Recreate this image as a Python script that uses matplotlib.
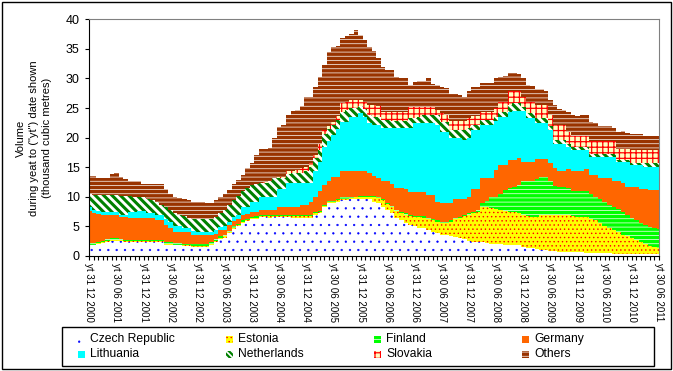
import numpy as np
import matplotlib
matplotlib.use("Agg")
import matplotlib.pyplot as plt
from matplotlib.patches import Rectangle

# ---------------- data (thousand cubic metres, monthly yt values, Dec 2000 .. Jun 2011) -------------
czech = [1.8, 1.8, 2.0, 2.2, 2.4, 2.6, 2.6, 2.5, 2.3, 2.3, 2.3, 2.3, 2.3, 2.3, 2.3, 2.3, 2.3, 1.9, 1.9, 1.8, 1.8,
         1.7, 1.7, 1.6, 1.6, 1.6, 1.6, 1.9, 2.4, 2.9, 3.1, 3.9, 4.6, 5.0, 5.6, 5.9, 6.2, 6.3, 6.6, 6.6, 6.5, 6.6, 6.6,
         6.6, 6.6, 6.5, 6.5, 6.5, 6.5, 6.5, 7.0, 7.2, 8.2, 8.9, 8.9, 9.2, 9.5, 9.5, 9.6, 9.6, 9.7, 9.7, 9.7,
         9.2, 9.0, 8.3, 7.8, 7.3, 6.4, 6.0, 5.6, 5.2, 5.0, 4.8, 4.7, 4.4, 4.1, 3.9, 3.6, 3.5, 3.3, 3.2, 3.0, 2.8, 2.6,
         2.4, 2.4, 2.3, 2.2, 2.1, 2.1, 2.0, 1.9, 1.9, 1.9, 1.8, 1.5, 1.4, 1.3, 1.1, 1.0, 1.0, 0.9, 0.8, 0.7, 0.7,
         0.6, 0.6, 0.6, 0.6, 0.5, 0.5, 0.5, 0.5, 0.5, 0.5, 0.4, 0.4, 0.4, 0.4, 0.4, 0.4, 0.3, 0.3, 0.3, 0.3, 0.3]
estonia = [0.1, 0.1, 0.2, 0.2, 0.2, 0.1, 0.1, 0.2, 0.2, 0.2, 0.2, 0.2, 0.2, 0.2, 0.2, 0.2, 0.2, 0.1, 0.1, 0.1, 0.1,
           0.1, 0.1, 0.1, 0.1, 0.1, 0.1, 0.1, 0.1, 0.2, 0.2, 0.2, 0.2, 0.2, 0.2, 0.2, 0.2, 0.2, 0.2, 0.2, 0.2, 0.2, 0.2,
           0.2, 0.2, 0.2, 0.2, 0.2, 0.2, 0.2, 0.2, 0.2, 0.2, 0.2, 0.2, 0.2, 0.2, 0.2, 0.2, 0.3, 0.3, 0.3, 0.3,
           0.8, 0.8, 1.2, 1.0, 1.0, 1.2, 1.2, 1.4, 1.6, 1.6, 1.8, 1.8, 1.8, 1.9, 1.9, 1.9, 2.1, 2.5, 3.0, 3.4, 3.9, 4.4,
           4.8, 5.0, 6.0, 6.0, 6.0, 5.9, 5.8, 5.7, 5.6, 5.6, 5.4, 5.4, 5.4, 5.3, 5.5, 6.0, 6.0, 6.1, 6.1, 6.2, 6.2,
           6.4, 6.2, 6.0, 6.0, 6.1, 5.8, 5.6, 5.0, 4.5, 4.3, 4.0, 3.6, 3.2, 2.9, 2.6, 2.3, 2.1, 1.8, 1.4, 1.2, 1.0]
finland = [0.3, 0.3, 0.2, 0.2, 0.2, 0.3, 0.3, 0.2, 0.2, 0.2, 0.2, 0.2, 0.2, 0.2, 0.2, 0.2, 0.2, 0.3, 0.3, 0.3, 0.3,
           0.3, 0.3, 0.3, 0.3, 0.3, 0.3, 0.3, 0.3, 0.2, 0.2, 0.2, 0.2, 0.2, 0.2, 0.2, 0.2, 0.2, 0.2, 0.2, 0.2, 0.2, 0.2,
           0.2, 0.2, 0.2, 0.2, 0.2, 0.2, 0.2, 0.2, 0.2, 0.2, 0.2, 0.2, 0.2, 0.2, 0.2, 0.2, 0.1, 0.1, 0.1, 0.1,
           0.2, 0.2, 0.2, 0.2, 0.2, 0.2, 0.2, 0.2, 0.2, 0.2, 0.2, 0.2, 0.2, 0.2, 0.2, 0.2, 0.2, 0.2, 0.2, 0.2, 0.2, 0.2,
           0.3, 0.4, 0.7, 1.1, 1.9, 2.0, 2.7, 3.6, 4.0, 4.2, 4.8, 5.7, 5.8, 6.0, 6.4, 6.4, 6.4, 5.6, 5.0, 4.8, 4.8,
           4.5, 4.2, 4.4, 4.4, 4.4, 4.2, 3.9, 4.1, 4.2, 3.8, 3.9, 3.9, 3.9, 3.7, 3.4, 3.3, 3.1, 3.1, 3.2, 3.2, 3.2]
germany = [5.4, 5.0, 4.7, 4.4, 4.2, 4.0, 4.0, 3.7, 3.9, 3.8, 3.8, 3.8, 3.8, 3.7, 3.7, 3.4, 3.4, 2.9, 2.4, 1.8, 1.8,
           1.9, 1.9, 1.5, 1.5, 1.5, 1.5, 1.2, 1.0, 1.1, 0.9, 0.9, 0.9, 0.9, 0.9, 0.8, 0.8, 0.8, 0.8, 0.8, 0.9, 0.8, 1.3,
           1.2, 1.2, 1.4, 1.4, 1.7, 1.7, 2.3, 2.6, 3.3, 3.4, 3.3, 4.1, 3.8, 4.4, 4.4, 4.3, 4.3, 4.2, 4.2, 3.9,
           3.3, 3.1, 3.0, 3.7, 3.6, 3.7, 4.1, 4.1, 3.8, 4.0, 4.0, 4.1, 3.9, 4.1, 3.2, 3.3, 3.2, 3.0, 3.3, 3.1, 2.8, 2.8,
           3.9, 3.6, 4.1, 3.8, 3.1, 4.5, 4.9, 4.2, 4.7, 4.5, 4.5, 3.3, 3.3, 3.3, 3.4, 3.0, 3.0, 3.1, 2.9, 2.6, 2.6,
           3.2, 3.4, 3.4, 3.3, 3.7, 3.2, 3.7, 3.5, 3.9, 4.5, 4.4, 4.8, 4.8, 4.7, 5.3, 5.7, 5.8, 6.1, 6.3, 6.5, 6.7]
lithuania = [0.6, 0.6, 0.5, 0.5, 0.5, 0.5, 0.5, 0.4, 0.4, 0.9, 1.0, 1.1, 1.1, 0.9, 0.8, 0.8, 0.8, 1.1, 1.0, 1.0, 1.0,
             0.8, 0.8, 0.8, 0.6, 0.6, 0.6, 0.6, 0.6, 0.5, 0.6, 0.6, 0.7, 0.7, 1.4, 1.2, 1.8, 1.7, 2.2, 2.2, 2.2, 2.2, 3.0,
             3.2, 4.1, 4.0, 4.0, 3.7, 3.7, 3.1, 4.3, 5.0, 6.5, 6.9, 7.1, 8.1, 8.4, 8.4, 9.2, 9.2, 9.8, 9.2, 8.4,
             8.7, 9.0, 8.9, 8.9, 9.5, 10.1, 10.1, 10.3, 10.8, 11.6, 11.6, 11.6, 12.1, 12.1, 12.9, 12.0, 12.0, 10.9, 10.2, 10.2, 9.9, 10.0,
             9.9, 9.9, 9.0, 9.0, 9.0, 8.3, 8.1, 8.1, 8.1, 8.3, 8.0, 8.6, 7.4, 7.4, 6.0, 6.0, 6.0, 5.6, 4.2, 4.7, 4.7,
             3.8, 3.5, 3.5, 3.6, 3.2, 3.1, 3.1, 3.7, 3.7, 3.7, 4.1, 3.2, 3.6, 4.2, 3.6, 3.6, 4.0, 3.8, 3.9, 3.9, 3.9]
netherlands = [2.2, 2.5, 2.7, 2.8, 2.8, 2.8, 2.8, 3.2, 3.2, 2.7, 2.5, 2.4, 2.4, 2.4, 2.2, 2.2, 1.8, 2.0, 2.1, 2.3, 1.9,
               1.9, 1.6, 2.0, 2.1, 2.1, 2.1, 2.2, 2.2, 2.3, 2.8, 2.8, 2.8, 3.2, 2.7, 3.2, 2.8, 3.0, 2.3, 2.4, 2.6, 3.1, 1.8,
               1.7, 1.6, 1.7, 1.7, 1.7, 2.0, 2.7, 2.2, 2.0, 2.2, 2.0, 1.7, 1.5, 1.7, 1.9, 1.5, 1.5, 1.3, 1.3, 1.4,
               1.3, 1.4, 1.4, 1.4, 1.2, 1.2, 1.2, 1.2, 1.7, 0.9, 1.1, 1.4, 1.4, 1.4, 1.7, 1.7, 1.7, 1.4, 1.4, 1.4, 1.7, 1.6,
               0.8, 0.8, 0.9, 0.9, 0.9, 0.7, 0.9, 0.9, 1.3, 1.3, 1.3, 0.7, 0.8, 0.8, 0.9, 0.9, 0.9, 0.6, 0.6, 0.6, 0.6,
               0.5, 0.6, 0.6, 0.6, 0.6, 0.4, 0.4, 0.4, 0.4, 0.4, 0.4, 0.4, 0.4, 0.4, 0.5, 0.5, 0.5, 0.7, 0.7, 0.7, 0.7]
slovakia = [0.0, 0.0, 0.0, 0.0, 0.0, 0.0, 0.0, 0.0, 0.0, 0.0, 0.0, 0.0, 0.0, 0.0, 0.0, 0.0, 0.0, 0.0, 0.0, 0.0, 0.0,
            0.0, 0.0, 0.0, 0.0, 0.0, 0.0, 0.0, 0.0, 0.0, 0.0, 0.0, 0.0, 0.0, 0.0, 0.0, 0.0, 0.0, 0.1, 0.1, 0.1, 0.1, 0.3,
            0.3, 0.4, 0.4, 0.5, 0.8, 0.8, 0.8, 0.6, 1.0, 0.6, 0.5, 0.5, 0.6, 1.5, 1.5, 1.3, 1.3, 1.0, 1.2, 1.7,
            2.0, 1.8, 1.4, 1.4, 1.6, 1.6, 1.6, 1.6, 1.9, 1.9, 1.7, 1.4, 1.4, 1.4, 0.8, 1.4, 1.1, 1.5, 1.5, 1.5, 1.5, 1.8,
            1.5, 1.5, 1.4, 1.4, 1.4, 1.5, 1.7, 1.7, 2.2, 2.0, 2.0, 1.7, 1.9, 1.9, 2.3, 2.2, 2.2, 1.9, 2.5, 2.5, 2.5,
            1.9, 1.7, 1.7, 1.7, 1.7, 2.2, 2.2, 2.2, 2.2, 2.2, 2.2, 1.7, 1.7, 1.7, 2.1, 2.1, 2.1, 2.1, 2.1, 2.1, 2.1]
others = [3.2, 3.3, 2.9, 2.8, 2.8, 3.5, 3.7, 3.2, 2.8, 2.6, 2.6, 2.6, 2.2, 2.4, 2.7, 3.0, 3.4, 3.1, 2.6, 2.6, 2.9,
          3.0, 3.1, 2.9, 2.9, 2.9, 2.7, 2.6, 2.8, 2.8, 2.7, 2.6, 2.8, 2.6, 2.7, 3.4, 3.7, 4.9, 5.7, 5.6, 5.5, 6.7, 8.4,
          8.7, 9.5, 10.1, 10.2, 10.6, 11.7, 11.1, 11.5, 11.4, 11.0, 12.4, 12.6, 11.9, 10.9, 11.0, 11.3, 11.9, 11.0, 10.5, 9.9,
          9.1, 8.1, 7.6, 7.1, 7.0, 5.8, 5.7, 5.7, 3.7, 4.2, 4.3, 4.4, 4.9, 3.8, 4.3, 4.4, 4.6, 4.5, 4.5, 4.4, 4.1, 4.5,
          4.9, 5.0, 4.8, 4.9, 4.9, 5.0, 4.2, 4.3, 3.1, 3.1, 3.0, 3.1, 2.9, 2.8, 2.7, 2.8, 2.4, 2.6, 3.4, 2.7, 2.6,
          3.5, 3.6, 3.5, 3.6, 3.6, 3.3, 3.0, 2.6, 2.6, 2.6, 2.2, 3.0, 3.1, 2.8, 2.8, 2.8, 2.8, 2.4, 2.4, 2.4, 2.4]

series_names = ["Czech Republic", "Estonia", "Finland", "Germany",
                "Lithuania", "Netherlands", "Slovakia", "Others"]
series_values = [czech, estonia, finland, germany, lithuania, netherlands, slovakia, others]

xtick_labels = ["yt 31 12 2000", "yt 30 06 2001", "yt 31 12 2001", "yt 30 06 2002", "yt 31 12 2002",
                "yt 30 06 2003", "yt 31 12 2003", "yt 30 06 2004", "yt 31 12 2004", "yt 30 06 2005",
                "yt 31 12 2005", "yt 30 06 2006", "yt 31 12 2006", "yt 30 06 2007", "yt 31 12 2007",
                "yt 30 06 2008", "yt 31 12 2008", "yt 30 06 2009", "yt 31 12 2009", "yt 30 06 2010",
                "yt 31 12 2010", "yt 30 06 2011"]

# ---------------- styles ----------------
styles = {
    "Czech Republic": dict(face="white", hatch="..", hcolor="#0000FF", hlw=0.4),
    "Estonia": dict(face="#FFFF00", hatch="....", hcolor="#FF0000", hlw=0.5),
    "Finland": dict(face="#00FF00", hatch="----", hcolor="white", hlw=0.5),
    "Germany": dict(face="#FF6600", hatch=None, hcolor="#FF6600", hlw=1.0),
    "Lithuania": dict(face="#00FFFF", hatch=None, hcolor="#00FFFF", hlw=1.0),
    "Netherlands": dict(face="white", hatch="\\\\\\\\", hcolor="#008000", hlw=2.2),
    "Slovakia": dict(face="#FFFFC0", hatch="+++", hcolor="#FF0000", hlw=0.9),
    "Others": dict(face="#993300", hatch="----", hcolor="white", hlw=0.5),
}

W, H = 673, 371
fx = lambda px: px / W
fy = lambda py: 1 - py / H

plt.rcParams['font.family'] = ['Liberation Sans', 'DejaVu Sans']

fig = plt.figure(figsize=(W / 100, H / 100), dpi=100)
ax = fig.add_axes([fx(89.3), fy(256), (659 - 89.3) / W, (256 - 19.3) / H])

x = np.arange(len(czech))
base = np.zeros(len(x))
for name, vals in zip(series_names, series_values):
    st = styles[name]
    top = base + np.asarray(vals, dtype=float)
    with plt.rc_context({'hatch.linewidth': st['hlw']}):
        coll = ax.fill_between(x, base, top, step='mid', facecolor=st['face'],
                               edgecolor=st['hcolor'], hatch=st['hatch'], linewidth=0,
                               antialiased=False, zorder=2)
        if hasattr(coll, 'set_hatch_linewidth'):
            coll.set_hatch_linewidth(st['hlw'])
    base = top

ax.set_xlim(0, len(x) - 1)
ax.set_ylim(0, 40)
ax.set_yticks(np.arange(0, 41, 5))
ax.tick_params(axis='y', direction='out', length=3, width=0.8, pad=4, labelsize=9)
ax.set_xticks(np.arange(0, len(x), 6))
ax.set_xticks(np.arange(len(x)), minor=True)
ax.set_xticklabels(xtick_labels, rotation=270, fontsize=7, va='top', ha='center')
ax.tick_params(axis='x', which='both', direction='out', length=3, width=0.8, pad=2)

for s in ['top', 'right']:
    ax.spines[s].set_color('#808080')
    ax.spines[s].set_linewidth(0.8)
for s in ['left', 'bottom']:
    ax.spines[s].set_color('black')
    ax.spines[s].set_linewidth(0.8)

fig.text(fx(34), fy(138), 'Volume\nduring yeat to ("yt") date shown\n(thousand cubic metres)',
         rotation=90, ha='center', va='center', multialignment='center', fontsize=8, linespacing=1.35)

# outer frame
fig.add_artist(Rectangle((fx(1.5), fy(368.5)), (670.5 - 1.5) / W, (368.5 - 1.5) / H,
                         transform=fig.transFigure, fill=False, edgecolor='black', linewidth=1))
# legend box
fig.add_artist(Rectangle((fx(62), fy(366)), (654 - 62) / W, (366 - 327) / H,
                         transform=fig.transFigure, fill=False, edgecolor='black', linewidth=1))

col_x = [78, 226, 374, 522]
row_y = [339, 354]
for k, name in enumerate(series_names):
    st = styles[name]
    r, c = divmod(k, 4)
    mx, my = col_x[c], row_y[r]
    lw = st['hlw']
    hatch = st['hatch']
    if name == "Netherlands":
        hatch, lw = "\\\\\\\\\\\\", 1.6
    with plt.rc_context({'hatch.linewidth': lw}):
        p = Rectangle((fx(mx), fy(my + 3.5)), 7 / W, 7 / H, transform=fig.transFigure,
                      facecolor=st['face'], edgecolor=st['hcolor'], hatch=hatch, linewidth=0)
        if hasattr(p, 'set_hatch_linewidth'):
            p.set_hatch_linewidth(lw)
        fig.add_artist(p)
    fig.text(fx(mx + 12), fy(my), name, ha='left', va='center', fontsize=8.7)

fig.savefig("out.png", dpi=100)
